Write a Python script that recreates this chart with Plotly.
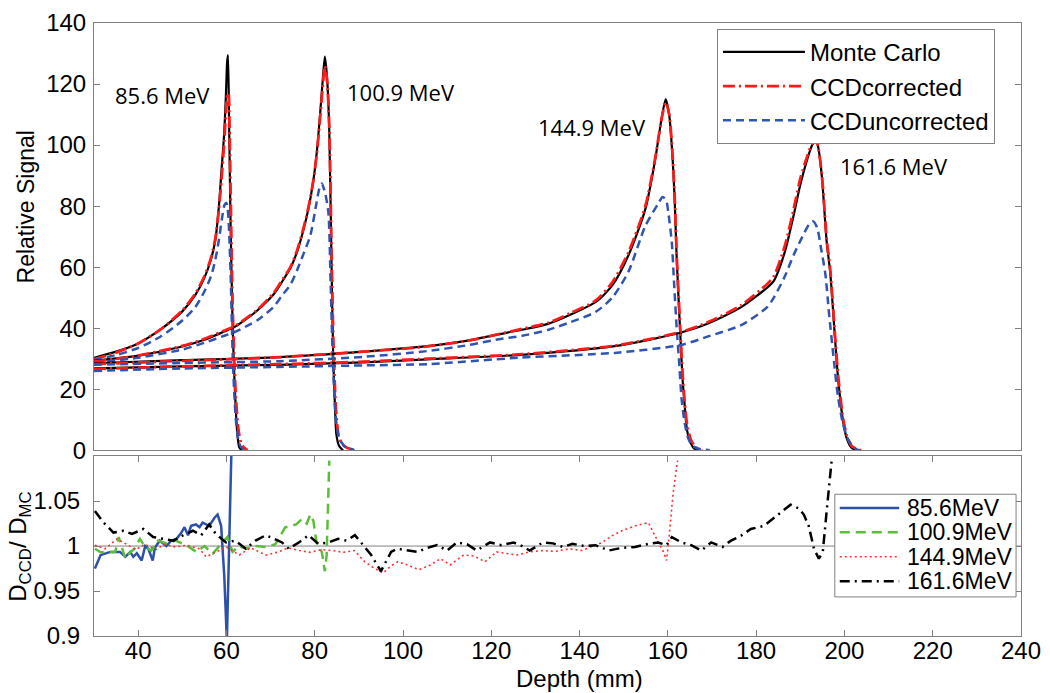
import plotly.graph_objects as go

# ---------------- data: top panel (Relative Signal vs Depth, mm) ----------------
d85_mc = [30, 35, 40, 45, 50, 53, 55, 56.5, 57.5, 58.3, 58.9, 59.5, 59.9, 60.15, 60.35, 60.6, 60.9, 61.4, 61.8, 62.1, 62.5, 62.9, 63.5]
s85_mc = [30.3, 32.3, 35.0, 39.5, 45.5, 51.0, 56.5, 62.5, 69.0, 80.0, 92.0, 104.0, 117.0, 127.0, 129.5, 108.0, 78.0, 41.0, 24.0, 14.0, 5.0, 1.0, 0.0]
d85_cc = [30, 35, 40, 45, 50, 53, 55, 56.5, 57.5, 58.3, 58.9, 59.5, 59.9, 60.2, 60.45, 60.7, 61.0, 61.4, 61.8, 62.2, 62.7, 63.3, 64.0, 64.8]
s85_cc = [29.8, 32.0, 35.0, 39.5, 45.8, 51.5, 57.0, 63.0, 69.5, 79.0, 89.0, 101.0, 111.0, 116.5, 117.0, 106.0, 80.0, 48.0, 29.0, 16.0, 7.0, 2.5, 0.8, 0.0]
d85_uc = [30, 35, 40, 45, 50, 53, 55, 56.5, 57.5, 58.3, 59.0, 59.6, 60.0, 60.3, 60.6, 61.0, 61.4, 61.8, 62.2, 62.7, 63.3, 64.5]
s85_uc = [29.5, 31.2, 33.5, 37.2, 42.5, 47.0, 52.0, 57.0, 62.5, 69.0, 76.0, 80.5, 81.0, 79.0, 72.0, 55.0, 32.0, 18.0, 9.0, 3.5, 1.0, 0.0]

d101_mc = [30, 40, 50, 55, 59.5, 62, 65, 67, 70.7, 72.5, 74.5, 76, 77.5, 78.7, 79.7, 80.5, 81.2, 81.8, 82.3, 82.8, 83.3, 83.8, 84.2, 84.6, 84.9, 85.5, 86.4]
s101_mc = [29.3, 31.0, 34.0, 36.2, 38.9, 40.5, 43.5, 45.8, 51.1, 55.0, 59.7, 65.0, 72.5, 80.0, 88.5, 98.0, 109.8, 121.0, 129.0, 122.0, 104.5, 61.8, 29.8, 14.0, 5.3, 1.5, 0.0]
d101_cc = [30, 40, 50, 55, 59.5, 62, 65, 67, 70.7, 72.5, 74.5, 76, 77.5, 78.7, 79.7, 80.5, 81.2, 81.8, 82.3, 82.8, 83.3, 83.8, 84.3, 84.8, 85.4, 86.2, 87.3, 89.3]
s101_cc = [29.0, 31.0, 34.2, 36.5, 39.2, 40.8, 43.8, 46.0, 51.5, 55.5, 60.0, 65.5, 73.0, 80.5, 88.5, 97.5, 108.5, 119.0, 126.0, 121.0, 106.0, 66.0, 32.0, 14.0, 5.0, 2.0, 0.8, 0.0]
d101_uc = [30, 40, 50, 55, 59.5, 62, 65, 67, 70.7, 72.5, 74.5, 76, 77.5, 79.0, 80.4, 81.0, 81.6, 82.4, 83.1, 83.6, 84.1, 84.7, 85.5, 87.0, 89.0]
s101_uc = [28.7, 30.3, 33.0, 35.2, 37.5, 38.8, 41.0, 42.6, 47.0, 50.5, 54.3, 59.0, 64.5, 70.3, 81.0, 85.5, 87.4, 84.0, 77.8, 55.0, 30.0, 12.0, 4.0, 1.0, 0.0]

d145_mc = [30, 50, 72, 91, 105.5, 115, 121, 127, 133, 138, 143.6, 147.4, 151.1, 154.9, 157.1, 158.5, 159.5, 160.3, 161.1, 161.6, 162.0, 162.8, 163.3, 163.8, 164.3, 165, 166, 167]
s145_mc = [28.5, 29.5, 30.5, 32.3, 34.1, 36.0, 37.8, 39.5, 41.5, 44.5, 48.5, 54.0, 64.0, 79.0, 95.0, 108.0, 115.0, 110.0, 95.0, 80.0, 63.0, 38.5, 24.0, 15.0, 7.0, 3.0, 0.5, 0.0]
d145_cc = [30, 50, 72, 91, 105.5, 115, 121, 127, 133, 138, 143.6, 147.4, 151.1, 154.9, 157.1, 158.5, 159.5, 160.3, 161.1, 161.6, 162.0, 162.8, 163.3, 163.8, 164.4, 165.2, 166.3, 167.8]
s145_cc = [28.2, 29.3, 30.5, 32.3, 34.0, 36.0, 37.8, 39.8, 41.8, 45.0, 49.0, 55.0, 65.0, 80.0, 95.5, 108.0, 114.0, 110.0, 96.0, 81.0, 64.0, 40.0, 26.0, 16.0, 8.0, 3.5, 1.0, 0.0]
d145_uc = [30, 50, 72, 91, 105.5, 115, 121, 127, 133, 138, 143.6, 147.4, 151.1, 154.9, 157.9, 158.8, 159.6, 160.1, 160.9, 161.4, 162.0, 162.6, 163.1, 163.8, 164.6, 165.5, 167, 169.5]
s145_uc = [28.0, 28.6, 29.2, 30.6, 32.5, 34.5, 36.2, 37.5, 39.5, 42.0, 45.3, 50.0, 58.6, 73.5, 81.0, 83.0, 82.0, 78.0, 68.0, 55.0, 40.0, 28.0, 17.0, 9.0, 4.0, 1.5, 0.5, 0.0]

d162_mc = [30, 50, 72, 91, 105.5, 126, 148, 163, 169.1, 176.6, 182.5, 184, 186.5, 188.5, 190, 191.5, 192.7, 193.6, 194.1, 194.9, 196.0, 196.8, 197.9, 198.6, 199.7, 200.5, 201.5, 202.5]
s162_mc = [26.8, 27.5, 28.0, 28.8, 29.8, 31.2, 34.1, 38.6, 41.5, 46.9, 53.3, 55.5, 65.0, 77.0, 87.0, 95.0, 100.0, 101.8, 99.0, 89.5, 68.0, 58.0, 36.0, 23.0, 9.5, 4.0, 1.0, 0.0]
d162_cc = [30, 50, 72, 91, 105.5, 126, 148, 163, 169.1, 176.6, 182.5, 184, 186.5, 188.5, 190, 191.5, 192.7, 193.6, 194.1, 194.9, 196.0, 196.8, 197.9, 198.6, 199.7, 200.6, 201.8, 203.8]
s162_cc = [26.6, 27.5, 28.2, 29.0, 30.0, 31.4, 34.3, 38.8, 42.0, 47.5, 54.5, 57.0, 67.0, 79.0, 89.0, 96.0, 100.5, 101.5, 99.0, 90.0, 69.0, 59.0, 37.0, 24.0, 10.5, 4.5, 1.2, 0.0]
d162_uc = [30, 50, 72, 91, 105.5, 126, 148, 163, 169.1, 176.6, 182.5, 184, 186.5, 188.5, 190.5, 192, 192.9, 193.8, 194.6, 195.7, 196.5, 197.5, 198.5, 199.7, 201.0, 202.5, 203.5]
s162_uc = [26.0, 26.8, 27.3, 27.8, 28.2, 30.3, 31.9, 34.5, 37.3, 41.0, 46.9, 50.0, 57.0, 64.0, 70.0, 74.0, 75.0, 73.0, 67.0, 57.5, 45.0, 31.0, 18.0, 8.5, 3.0, 0.5, 0.0]

energy_labels = ["85.6 MeV", "100.9 MeV", "144.9 MeV", "161.6 MeV"]
label_x = [34.4, 86.9, 130.2, 198.6]
label_y = [116.3, 117.3, 106.0, 93.0]

# ---------------- data: bottom panel (D_CCD / D_MC) ----------------
d_r85 = [30.2, 31.5, 33.7, 35.9, 37.1, 38.2, 38.9, 39.7, 40.8, 41.6, 42.3, 43.3, 43.8, 44.9, 46.4, 47.5, 48.7, 49.8, 50.5, 51.3, 52.0, 53.1, 53.9, 54.6, 55.4, 56.1, 57.3, 58.0, 58.8, 59.5, 60.1, 60.9, 61.1, 61.3]
r85 = [0.975, 0.990, 0.9935, 0.9935, 0.988, 0.9935, 0.988, 0.992, 0.984, 1.0, 0.997, 0.984, 0.998, 1.006, 1.0, 1.006, 1.008, 1.015, 1.021, 1.012, 1.0225, 1.024, 1.021, 1.026, 1.024, 1.0225, 1.0315, 1.035, 1.0225, 0.968, 0.895, 1.04, 1.099, 1.15]
d_r101 = [30.2, 31.5, 33.0, 34.8, 35.6, 37.1, 38.2, 39.2, 40.4, 41.6, 43.0, 44.5, 46.4, 48.5, 50.9, 53.2, 55.0, 56.9, 58.4, 60.2, 61.4, 62.8, 64.4, 66.6, 68.9, 71.1, 73.3, 74.8, 75.8, 77.1, 78.2, 79.0, 79.7, 80.4, 81.6, 82.3, 82.7, 83.3]
r101 = [0.997, 0.993, 0.9935, 0.9935, 1.01, 0.986, 0.993, 0.997, 1.008, 0.999, 0.995, 1.006, 1.003, 1.006, 1.001, 0.9935, 1.0, 0.9917, 1.0, 1.01, 0.9935, 1.0, 0.997, 1.0, 0.999, 1.002, 1.0207, 1.0225, 1.024, 1.03, 1.025, 1.035, 1.028, 1.004, 0.9935, 0.972, 0.99, 1.095]
d_r145 = [30.2, 32.5, 35.2, 37.5, 39.5, 41.5, 44.0, 46.0, 48.5, 51.0, 53.9, 55.4, 57.5, 60.0, 62.9, 65.5, 68.9, 71.5, 74.0, 76.5, 79.0, 81.5, 84.0, 86.5, 89.0, 91.3, 93.5, 95.5, 97.3, 98.8, 101.0, 103.6, 106.2, 108.5, 110.7, 113.7, 116.0, 118.6, 121.2, 123.5, 125.7, 128.7, 131.5, 134.5, 137.7, 140.5, 143.6, 145.1, 147.4, 149.6, 152.6, 155.6, 156.7, 157.8, 159.0, 159.7, 160.1, 161.2, 162.2]
r145 = [1.001, 0.997, 1.008, 1.002, 0.996, 1.002, 0.996, 1.002, 0.999, 1.001, 0.997, 0.988, 0.993, 0.999, 0.99, 0.998, 0.99, 0.993, 0.998, 0.995, 0.993, 0.996, 0.995, 0.993, 0.995, 0.9826, 0.9754, 0.97, 0.978, 0.9826, 0.979, 0.9736, 0.979, 0.986, 0.979, 0.99, 0.989, 0.9826, 0.9935, 0.992, 0.99, 0.9935, 0.995, 0.994, 0.997, 0.995, 1.001, 1.004, 1.0116, 1.017, 1.0225, 1.026, 1.015, 1.004, 0.9935, 0.984, 1.001, 1.059, 1.095]
d_r162 = [30.2, 32.2, 34.4, 36.7, 38.6, 41.2, 43.4, 45.7, 48.0, 50.2, 52.4, 54.3, 56.1, 57.6, 59.9, 62.0, 64.4, 66.6, 68.9, 70.8, 72.6, 74.1, 76.4, 78.6, 80.8, 83.1, 85.3, 87.2, 89.1, 90.5, 92.8, 95.0, 97.3, 98.8, 101.0, 103.3, 105.5, 107.7, 110.0, 112.2, 114.5, 116.7, 119.7, 122.3, 125.0, 127.0, 128.7, 131.7, 134.0, 136.2, 138.4, 141.0, 143.6, 146.6, 149.6, 152.6, 155.6, 157.8, 159.7, 160.9, 163.1, 165.3, 167.6, 169.8, 172.4, 174.3, 176.6, 178.8, 181.8, 184.0, 185.5, 187.8, 189.6, 190.8, 191.9, 193.1, 194.2, 195.1, 196.0, 197.1]
r162 = [1.039, 1.026, 1.015, 1.017, 1.0134, 1.019, 1.01, 1.008, 1.006, 1.012, 1.017, 1.012, 1.024, 1.0134, 1.004, 1.006, 0.997, 1.006, 1.012, 1.008, 1.004, 0.997, 1.004, 1.012, 1.0025, 1.004, 1.008, 1.006, 1.012, 1.004, 0.99, 0.972, 0.9935, 0.997, 0.995, 0.9935, 0.998, 1.001, 0.995, 1.004, 1.002, 0.995, 1.004, 1.001, 1.004, 1.0, 0.995, 1.004, 1.003, 0.999, 1.0025, 1.0, 1.001, 0.995, 0.998, 0.999, 1.0025, 1.004, 1.001, 1.01, 1.004, 1.001, 0.995, 1.004, 0.999, 1.006, 1.0116, 1.019, 1.0225, 1.0315, 1.037, 1.046, 1.042, 1.035, 1.0225, 0.997, 0.986, 0.9935, 1.04, 1.095]

x_ticks = [40, 60, 80, 100, 120, 140, 160, 180, 200, 220, 240]
top_yticks = [0, 20, 40, 60, 80, 100, 120, 140]
bot_yticks = [0.9, 0.95, 1, 1.05]
bot_yticktext = ["0.9", "0.95", "1", "1.05"]

# ---------------- styles ----------------
FONT = "Liberation Sans, Arial, sans-serif"
AX = "#808080"
C_MC = "black"
C_CC = "#ff1a1a"
C_UC = "#2f55b0"

fig = go.Figure()

top_sets = [
    (d85_mc, s85_mc, d85_cc, s85_cc, d85_uc, s85_uc),
    (d101_mc, s101_mc, d101_cc, s101_cc, d101_uc, s101_uc),
    (d145_mc, s145_mc, d145_cc, s145_cc, d145_uc, s145_uc),
    (d162_mc, s162_mc, d162_cc, s162_cc, d162_uc, s162_uc),
]
SM = 0.7
for i, (dm, sm, dc, sc, du, su) in enumerate(top_sets):
    first = i == 0
    fig.add_trace(go.Scatter(x=dm, y=sm, mode="lines", name="Monte Carlo", legendgroup="mc",
                             showlegend=first, legend="legend",
                             line=dict(color=C_MC, width=2.2, shape="spline", smoothing=SM),
                             xaxis="x", yaxis="y"))
    fig.add_trace(go.Scatter(x=dc, y=sc, mode="lines", name="CCDcorrected", legendgroup="cc",
                             showlegend=first, legend="legend",
                             line=dict(color=C_CC, width=2.8, dash="12px,4px,2px,4px",
                                       shape="spline", smoothing=SM),
                             xaxis="x", yaxis="y"))
    fig.add_trace(go.Scatter(x=du, y=su, mode="lines", name="CCDuncorrected", legendgroup="uc",
                             showlegend=first, legend="legend",
                             line=dict(color=C_UC, width=2.5, dash="8px,5px",
                                       shape="spline", smoothing=SM),
                             xaxis="x", yaxis="y"))

bottom = [
    (d_r85, r85, "85.6MeV", dict(color="#2d50a8", width=2.5, dash="solid")),
    (d_r101, r101, "100.9MeV", dict(color="#5dbd3a", width=2.5, dash="10px,6px")),
    (d_r145, r145, "144.9MeV", dict(color="#ff3030", width=1.6, dash="2px,3px")),
    (d_r162, r162, "161.6MeV", dict(color="black", width=2.5, dash="10px,5px,2px,5px")),
]
for d, r, nm, ln in bottom:
    fig.add_trace(go.Scatter(x=d, y=r, mode="lines", name=nm, line=ln, showlegend=False,
                             xaxis="x2", yaxis="y2"))

# ---------------- layout helpers (pixel -> paper) ----------------
L, R, T, B = 94, 20, 9, 57
W, H = 1050, 693
PW, PH = W - L - R, H - T - B


def px(xp):
    return (xp - L) / PW


def py(yp):
    return (H - B - yp) / PH


annotations = []
for lx, ly, lt in zip(label_x, label_y, energy_labels):
    annotations.append(dict(x=lx, y=ly, xref="x", yref="y", text=lt, showarrow=False,
                            xanchor="left", yanchor="middle",
                            font=dict(family="Open Sans, sans-serif", size=22, color="black")))
annotations += [
    dict(x=px(25), y=py(197), xref="paper", yref="paper", text="Relative Signal", textangle=-90,
         showarrow=False, xanchor="center", yanchor="middle", font=dict(family=FONT, size=23, color="black")),
    dict(x=px(18), y=py(545), xref="paper", yref="paper", text="D<sub>CCD</sub>/ D<sub>MC</sub>",
         textangle=-90, showarrow=False, xanchor="center", yanchor="middle",
         font=dict(family=FONT, size=24, color="black")),
    dict(x=px(584), y=py(679), xref="paper", yref="paper", text="Depth (mm)", showarrow=False,
         xanchor="center", yanchor="middle", font=dict(family=FONT, size=24, color="black")),
]

# custom bottom legend (box, line samples, labels)
shapes = [dict(type="line", xref="x2 domain", x0=0, x1=1, yref="y2", y0=1, y1=1,
               line=dict(color=AX, width=1), layer="below"),
          dict(type="rect", xref="paper", yref="paper", x0=px(842), x1=px(1025),
               y0=py(596), y1=py(491), line=dict(color=AX, width=1), fillcolor="white", layer="above")]
row_y = [505, 530, 555, 580]
for (d, r, nm, ln), yy in zip(bottom, row_y):
    shapes.append(dict(type="line", xref="paper", yref="paper", x0=px(847), x1=px(907),
                       y0=py(yy), y1=py(yy), line=ln, layer="above"))
    annotations.append(dict(x=px(913), y=py(yy), xref="paper", yref="paper", text=nm,
                            showarrow=False, xanchor="left", yanchor="middle",
                            font=dict(family=FONT, size=23, color="black")))

axis_common = dict(showline=True, linecolor=AX, linewidth=1, mirror="ticks", ticks="inside",
                   ticklen=6, tickcolor=AX, showgrid=False, zeroline=False,
                   ticklabeloverflow="allow",
                   tickfont=dict(family=FONT, size=24, color="black"))

fig.update_layout(
    width=W, height=H,
    margin=dict(l=L, r=R, t=T, b=B),
    paper_bgcolor="white", plot_bgcolor="white",
    font=dict(family=FONT, size=24, color="black"),
    xaxis=dict(domain=[0, 1], range=[30, 240], anchor="y", showticklabels=False,
               showline=True, linecolor=AX, linewidth=1, mirror=True, ticks="",
               showgrid=False, zeroline=False, matches="x2"),
    yaxis=dict(domain=[py(446), 1], range=[0, 140], anchor="x", tickvals=top_yticks,
               ticklabelstandoff=2, **axis_common),
    xaxis2=dict(domain=[0, 1], range=[30, 240], anchor="y2", tickvals=x_ticks,
                ticklabelstandoff=-7, **axis_common),
    yaxis2=dict(domain=[0, py(452)], range=[0.9, 1.1], anchor="x2", tickvals=bot_yticks,
                ticktext=bot_yticktext, ticklabelstandoff=8, **axis_common),
    legend=dict(x=px(723), y=py(15), xanchor="left", yanchor="top", bgcolor="white",
                bordercolor=AX, borderwidth=1, font=dict(family=FONT, size=24, color="black"),
                itemwidth=82, tracegroupgap=0),
    shapes=shapes,
    annotations=annotations,
    showlegend=True,
)

fig.write_html("out.html", config={"displayModeBar": False},
               post_script="document.body.style.margin='0px';document.body.style.overflow='hidden';")
